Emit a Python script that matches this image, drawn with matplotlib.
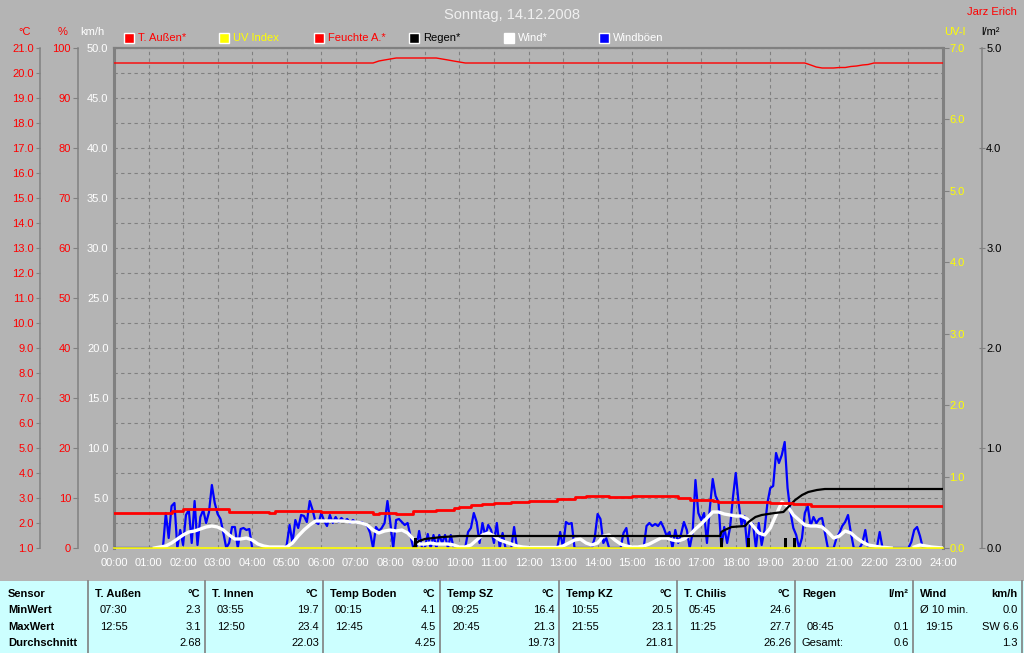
import numpy as np
import matplotlib.pyplot as plt
from matplotlib.patches import Rectangle
from matplotlib.lines import Line2D

plt.rcParams['font.family'] = ['Liberation Sans', 'DejaVu Sans']
plt.rcParams['font.size'] = 8

W, H = 1024, 653
BG = '#b4b4b4'
GRID = '#808080'

# ---- data ----
# Windböen, km/h, 5 min steps 00:00 .. 24:00
gust = [
    0, 0, 0, 0, 0, 0, 0, 0, 0, 0, 0, 0,
    0, 0, 0, 0, 0, 0, 3.5, 1.0, 4.2, 4.5, 0, 1.8,
    0.3, 3.3, 3.8, 0.5, 4.7, 0.3, 3.1, 3.8, 2.5, 3.6, 6.3, 4.5,
    3.4, 2.9, 1.5, 0, 0.5, 2.1, 2.1, 0, 1.9, 2.0, 1.8, 1.9,
    0, 0, 0, 0, 0, 0, 0, 0, 0, 0, 0, 0,
    0.3, 2.3, 0.5, 2.8, 2.0, 3.3, 3.2, 2.6, 4.7, 3.8, 2.6, 2.4,
    3.5, 2.7, 2.2, 3.3, 2.5, 3.1, 2.6, 3.0, 2.7, 2.9, 2.5, 2.8,
    2.6, 2.5, 2.6, 2.4, 2.2, 1.5, 0, 2.1, 1.7, 2.0, 2.5, 4.7,
    2.5, 0, 2.8, 2.9, 2.6, 2.3, 2.5, 1.2, 0, 0, 1.7, 0,
    0, 1.4, 0, 1.3, 0, 1.3, 0.5, 1.3, 0, 1.3, 0, 0,
    0, 0, 0, 1.6, 2.0, 3.5, 2.6, 0.5, 2.5, 1.2, 2.3, 1.8,
    0.5, 2.5, 0, 1.5, 0, 0, 0, 2.1, 0, 0, 0, 0,
    0, 0, 0, 0, 0, 0, 0, 0, 0, 0, 0, 1.6,
    0, 2.6, 2.4, 2.5, 0, 0, 0, 0, 0, 0, 0, 1.0,
    3.4, 2.9, 0.5, 1.0, 0, 0, 0, 0, 0, 1.5, 2.0, 0,
    0, 0, 0, 0, 0, 2.2, 2.5, 2.2, 2.4, 2.2, 2.6, 2.0,
    1.2, 1.6, 0, 1.8, 0.5, 1.4, 2.6, 1.8, 0, 1.5, 6.8, 3.5,
    2.8, 3.5, 0.5, 4.0, 6.9, 5.2, 4.6, 0, 2.1, 0.5, 2.0, 5.0,
    7.5, 4.5, 2.3, 3.2, 0, 2.5, 2.4, 0, 2.5, 0.3, 1.8, 4.5,
    6.0, 6.2, 9.5, 8.5, 9.3, 10.6, 6.0, 3.6, 2.0, 1.3, 0, 1.0,
    3.5, 4.2, 2.2, 3.1, 2.5, 2.9, 3.0, 1.5, 0, 0, 0, 1.0,
    1.5, 2.2, 2.6, 3.3, 1.5, 0, 0, 0, 0.5, 1.8, 0, 0,
    0, 0, 1.6, 0, 0, 0, 0, 0, 0, 0, 0, 0,
    0, 0.6, 1.8, 2.1, 1.2, 0, 0, 0, 0, 0, 0, 0,
    0,
]
t_gust = np.arange(len(gust)) / 12.0

nan = np.nan
# Wind (mean), km/h, 10 min steps
wind = [
    nan, nan, nan, nan, nan, nan,
    nan, 0.0, 0.1, 0.2, 0.5, 0.9,
    1.3, 1.6, 1.7, 1.9, 2.1, 2.2,
    2.1, 1.8, 1.3, 0.9, 0.9, 1.0,
    0.8, 0.4, 0.2, 0.1, 0.1, 0.1,
    0.1, 0.5, 1.2, 1.8, 2.3, 2.7,
    2.7, 2.7, 2.7, 2.7, 2.7, 2.6,
    2.6, 2.5, 2.3, 1.8, 1.5, 1.7,
    1.8, 1.7, 1.8, 1.5, 0.9, 0.4,
    0.4, 0.5, 0.4, 0.4, 0.4, 0.3,
    0.1, 0.1, 0.3, 0.8, 1.3, 1.5,
    1.2, 0.8, 0.6, 0.4, 0.2, 0.1,
    0.05, 0.05, 0.05, 0.05, 0.05, 0.05,
    0.2, 0.5, 0.8, 0.9, 0.5, 0.3,
    0.5, 1.2, 1.3, 0.8, 0.4, 0.2,
    0.1, 0.1, 0.2, 0.4, 0.7, 1.0,
    1.0, 0.8, 0.7, 0.9, 1.3, 1.9,
    2.4, 3.0, 3.6, 3.6, 3.4, 3.3,
    3.2, 3.2, 2.9, 2.2, 1.5, 1.3,
    2.0, 3.3, 4.6, 4.2, 3.3, 2.8,
    2.3, 2.2, 2.2, 2.1, 1.6, 1.0,
    1.2, 1.7, 1.5, 1.0, 0.6, 0.3,
    0.2, 0.1, 0.05, 0.0, nan, nan,
    nan, 0.1, 0.3, 0.2, 0.1, 0.05,
    0.0,
]
t_wind = np.arange(len(wind)) / 6.0

# T. Außen, °C, 10 min steps
temp = [
    2.41, 2.41, 2.41, 2.41, 2.41, 2.41,
    2.41, 2.41, 2.41, 2.41, 2.48, 2.48,
    2.57, 2.57, 2.57, 2.57, 2.57, 2.57,
    2.57, 2.57, 2.45, 2.45, 2.45, 2.45,
    2.45, 2.45, 2.45, 2.40, 2.48, 2.48,
    2.48, 2.49, 2.49, 2.49, 2.49, 2.49,
    2.44, 2.44, 2.44, 2.44, 2.44, 2.44,
    2.44, 2.44, 2.44, 2.37, 2.42, 2.42,
    2.42, 2.38, 2.38, 2.38, 2.48, 2.48,
    2.48, 2.48, 2.52, 2.52, 2.52, 2.59,
    2.65, 2.65, 2.72, 2.72, 2.76, 2.76,
    2.81, 2.81, 2.81, 2.85, 2.85, 2.85,
    2.89, 2.89, 2.89, 2.89, 2.89, 2.96,
    2.96, 2.96, 3.03, 3.03, 3.07, 3.07,
    3.07, 3.07, 3.03, 3.03, 3.04, 3.04,
    3.08, 3.08, 3.08, 3.08, 3.07, 3.07,
    3.08, 3.08, 3.01, 3.01, 2.93, 2.93,
    2.93, 2.93, 2.87, 2.83, 2.83, 2.83,
    2.83, 2.83, 2.83, 2.83, 2.83, 2.83,
    2.82, 2.82, 2.82, 2.82, 2.76, 2.76,
    2.76, 2.68, 2.68, 2.68, 2.68, 2.68,
    2.68, 2.68, 2.69, 2.69, 2.69, 2.69,
    2.69, 2.69, 2.69, 2.69, 2.69, 2.69,
    2.69, 2.69, 2.69, 2.69, 2.69, 2.69,
    2.69,
]
t_temp = np.arange(len(temp)) / 6.0

# Feuchte A., %, (time h, value) points
hum_t = [0, 7.5, 7.67, 7.83, 8.0, 8.17, 9.33, 9.5, 9.67, 9.83, 10.0, 10.17,
         20.0, 20.17, 20.33, 20.5, 20.67, 20.83, 21.0, 21.17, 21.33, 21.5,
         21.67, 21.83, 22.0, 24.0]
hum = [97.0, 97.0, 97.4, 97.6, 97.8, 98.0, 98.0, 97.8, 97.6, 97.4, 97.2, 97.0,
       97.0, 96.6, 96.2, 96.0, 96.0, 96.0, 96.1, 96.1, 96.3, 96.4,
       96.6, 96.7, 97.0, 97.0]

# Regen, l/m² cumulative and single events
rain_t = [8.67, 8.75, 8.83, 9.0, 9.25, 9.5, 9.75, 10.0, 17.55, 17.58, 17.68,
          17.88, 18.27, 18.37, 18.57, 18.75, 19.13, 19.38, 19.52, 19.72,
          19.92, 20.1, 20.35, 20.58, 24.0]
rain_sum = [0.0, 0.05, 0.07, 0.09, 0.10, 0.11, 0.115, 0.12, 0.12, 0.16, 0.18,
            0.21, 0.22, 0.26, 0.31, 0.33, 0.35, 0.36, 0.41, 0.48,
            0.53, 0.56, 0.58, 0.59, 0.59]
rain_bar_t = [8.72, 17.58, 18.37, 19.45, 19.7]
rain_bar = [0.1, 0.1, 0.1, 0.1, 0.1]

# UV Index
uv_t = [0, 24]
uv = [0.0, 0.0]

hour_labels = ['%02d:00' % h for h in range(25)]

# table
table_cols = [
    ('T. Außen', '°C', [('07:30', '2.3'), ('12:55', '3.1'), ('', '2.68')]),
    ('T. Innen', '°C', [('03:55', '19.7'), ('12:50', '23.4'), ('', '22.03')]),
    ('Temp Boden', '°C', [('00:15', '4.1'), ('12:45', '4.5'), ('', '4.25')]),
    ('Temp SZ', '°C', [('09:25', '16.4'), ('20:45', '21.3'), ('', '19.73')]),
    ('Temp KZ', '°C', [('10:55', '20.5'), ('21:55', '23.1'), ('', '21.81')]),
    ('T. Chilis', '°C', [('05:45', '24.6'), ('11:25', '27.7'), ('', '26.26')]),
    ('Regen', 'l/m²', [('', ''), ('08:45', '0.1'), ('Gesamt:', '0.6')]),
    ('Wind', 'km/h', [('Ø 10 min.', '0.0'), ('19:15', 'SW 6.6'), ('', '1.3')]),
]
row_names = ['Sensor', 'MinWert', 'MaxWert', 'Durchschnitt']


def fx(x):
    return x / W


def fy(y):
    return 1 - y / H


fig = plt.figure(figsize=(W / 100, H / 100), dpi=100, facecolor=BG)

# main axes (km/h)
ax = fig.add_axes([fx(114), fy(548), 829 / W, 500 / H], facecolor=BG)
ax.set_xlim(0, 24)
ax.set_ylim(0, 50)
ax.set_xticks(range(25))
ax.set_xticklabels(hour_labels)
ax.set_yticks(np.arange(0, 50.1, 5))
ax.set_yticklabels(['%.1f' % v for v in np.arange(0, 50.1, 5)])
ax.set_yticks(np.arange(2.5, 50, 5), minor=True)
ax.grid(True, which='both', color=GRID, linestyle=(0, (3, 3)), lw=0.8)
ax.tick_params(axis='x', length=0, pad=7, labelcolor='white', labelsize=8)
ax.tick_params(axis='y', which='both', length=0, pad=4, labelcolor='white', labelsize=8)
ax.spines['bottom'].set_visible(False)
ax.spines['left'].set_color(GRID)
ax.spines['left'].set_linewidth(2.2)
ax.spines['right'].set_color(GRID)
ax.spines['right'].set_linewidth(2.2)
ax.spines['top'].set_color(GRID)
ax.spines['top'].set_linewidth(1.6)
ax.set_axisbelow(True)

ax.plot(t_gust, gust, color='#0000ff', lw=1.6, zorder=3)
ax.plot(t_wind, wind, color='white', lw=2.4, zorder=4)


def side_axis(lims, ticks, fmt, pos, side, color, tick_len, direction, pad):
    a = ax.twinx()
    a.set_ylim(*lims)
    for s in ['top', 'bottom', 'left', 'right']:
        a.spines[s].set_visible(False)
    if side == 'left':
        a.yaxis.tick_left()
    else:
        a.yaxis.tick_right()
    a.spines[side].set_visible(True)
    a.spines[side].set_position(('axes', pos))
    a.spines[side].set_color(GRID)
    a.spines[side].set_linewidth(1.1)
    a.set_yticks(ticks)
    a.set_yticklabels([fmt % v for v in ticks])
    a.tick_params(axis='y', length=tick_len, width=0.8, color=GRID,
                  direction=direction, labelcolor=color, labelsize=8, pad=pad)
    return a


ax_c = side_axis((1, 21), np.arange(1, 21.1, 1), '%.1f', (40 - 114) / 829,
                 'left', 'red', 3, 'out', 1.5)
ax_h = side_axis((0, 100), np.arange(0, 101, 10), '%d', (78 - 114) / 829,
                 'left', 'red', 3.5, 'out', 1.5)
ax_uv = side_axis((0, 7), np.arange(0, 7.1, 1), '%.1f', 1.0,
                  'right', 'yellow', 4, 'out', 0.5)
ax_uv.spines['right'].set_visible(False)
ax_r = side_axis((0, 5), np.arange(0, 5.1, 1), '%.1f', (982 - 114) / 829,
                 'right', 'black', 5, 'inout', 0.5)

ax_r.set_zorder(2)
ax_c.set_zorder(3)
ax_h.set_zorder(3)
ax_uv.set_zorder(4)

ax_r.plot(rain_t, rain_sum, color='black', lw=1.6)
ax_r.bar(rain_bar_t, rain_bar, width=0.09, color='black')
ax_c.plot(t_temp, temp, color='red', lw=2.0, drawstyle='steps-post')
ax_h.plot(hum_t, hum, color='red', lw=1.0)
ax_uv.plot(uv_t, uv, color='yellow', lw=1.2, clip_on=False)

# titles and units
fig.text(0.5, fy(15), 'Sonntag, 14.12.2008', ha='center', va='center',
         color='#f0f0f0', fontsize=10.5)
fig.text(fx(1017), fy(12), 'Jarz Erich', ha='right', va='center',
         color='red', fontsize=8)
fig.text(fx(25), fy(32), '°C', ha='center', va='center', color='red')
fig.text(fx(63), fy(32), '%', ha='center', va='center', color='red')
fig.text(fx(92), fy(32), 'km/h', ha='center', va='center', color='white')
fig.text(fx(955), fy(32), 'UV-I', ha='center', va='center', color='yellow')
fig.text(fx(991), fy(32), 'l/m²', ha='center', va='center', color='black')

# legend
legend_items = [
    ('T. Außen*', 'red', 'red'),
    ('UV Index', 'yellow', 'yellow'),
    ('Feuchte A.*', 'red', 'red'),
    ('Regen*', 'black', 'black'),
    ('Wind*', 'white', 'white'),
    ('Windböen', '#0000ff', 'white'),
]
for i, (name, fill, tcol) in enumerate(legend_items):
    x0 = 124 + i * 95
    fig.patches.append(Rectangle((fx(x0), fy(43)), 10 / W, 10 / H,
                                 facecolor=fill, edgecolor='white', lw=1.0,
                                 transform=fig.transFigure))
    fig.text(fx(x0 + 14), fy(38), name, ha='left', va='center', color=tcol)

# table
fig.patches.append(Rectangle((0, 0), 1, (653 - 581) / H, facecolor='#ccffff',
                             edgecolor='none', transform=fig.transFigure))
col_edges = [88, 205, 323, 440, 559, 677, 795, 913, 1022]
for xe in col_edges:
    fig.lines.append(Line2D([fx(xe), fx(xe)], [0, fy(581)], color=GRID, lw=1.2,
                            transform=fig.transFigure))
row_y = [594, 610, 627, 643]
for r, name in enumerate(row_names):
    fig.text(fx(8), fy(row_y[r]), name, ha='left', va='center',
             color='black', weight='bold')
for c, (head, unit, rows) in enumerate(table_cols):
    left = col_edges[c]
    right = col_edges[c + 1]
    fig.text(fx(left + 7), fy(row_y[0]), head, ha='left', va='center',
             color='black', weight='bold')
    fig.text(fx(right - 5), fy(row_y[0]), unit, ha='right', va='center',
             color='black', weight='bold')
    for r, (tm, val) in enumerate(rows):
        tx = left + 7 if tm.startswith(('Gesamt', 'Ø')) else left + 12
        fig.text(fx(tx), fy(row_y[r + 1]), tm, ha='left', va='center',
                 color='black')
        fig.text(fx(right - 4), fy(row_y[r + 1]), val, ha='right',
                 va='center', color='black')

fig.savefig('out.png', dpi=100, facecolor=BG)
